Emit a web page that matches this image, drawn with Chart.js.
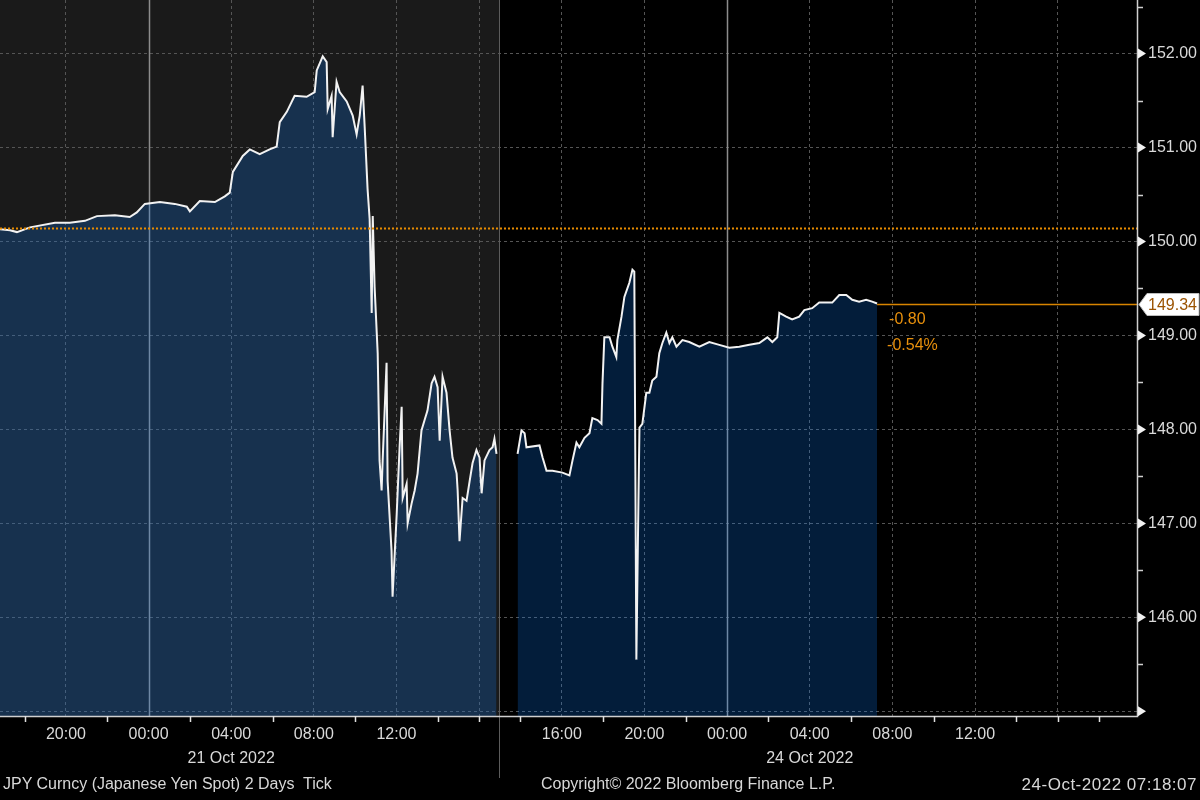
<!DOCTYPE html>
<html>
<head>
<meta charset="utf-8">
<title>JPY Curncy</title>
<script src="https://cdn.jsdelivr.net/npm/chart.js@4.4.1/dist/chart.umd.min.js"></script>
<style>
body { margin: 0; background: #000; }
#wrap { position: relative; width: 1200px; height: 800px; overflow: hidden; background: #000; }
.foot {
    position: absolute; top: 775px; color: #d8d8d8; white-space: nowrap;
    font: 16px 'Liberation Sans', Arial, sans-serif;
}
</style>
</head>
<body>
<div id="wrap">
    <canvas id="yenChart" width="1200" height="800"></canvas>
    <div class="foot" style="left:3px">JPY Curncy (Japanese Yen Spot) 2 Days&nbsp; Tick</div>
    <div class="foot" style="left:541px">Copyright© 2022 Bloomberg Finance L.P.</div>
    <div class="foot" style="right:3px;font-size:17px;letter-spacing:0.5px">24-Oct-2022 07:18:07</div>
</div>
<script>
/* ===== DATA ===== */
// x = hours on the weekend-compressed axis, 0 = 20:00 on 20 Oct
const fridayHours = [
    -3.19,-2.71,-2.37,-1.74,-0.53,0.19,0.92,1.50,2.37,3.09,3.43,3.82,4.55,5.27,5.85,6.00,
    6.48,7.21,7.69,7.93,8.08,8.56,8.90,9.38,9.86,10.20,10.35,10.69,11.07,11.65,12.04,12.14,
    12.43,12.62,12.67,12.86,12.91,13.10,13.25,13.59,13.88,14.07,14.22,14.36,14.46,14.60,14.70,
    14.80,14.85,14.94,15.09,15.18,15.28,15.33,15.52,15.57,15.76,15.81,16.01,16.15,16.25,16.30,
    16.49,16.54,16.73,16.88,17.02,17.21,17.36,17.50,17.70,17.84,17.99,18.09,18.23,18.42,18.57,
    18.71,18.91,18.96,19.05,19.20,19.39,19.54,19.68,19.87,20.02,20.12,20.26,20.50,20.65,20.74,20.84
];
const fridayPrices = [
    150.13,150.12,150.10,150.15,150.20,150.20,150.22,150.27,150.28,150.26,150.31,150.40,150.42,150.40,150.37,150.32,
    150.43,150.42,150.48,150.52,150.74,150.91,150.98,150.93,150.98,151.01,151.27,151.38,151.55,151.54,151.59,151.82,
    151.97,151.91,151.41,151.55,151.11,151.70,151.59,151.49,151.34,151.14,151.34,151.66,151.22,150.56,150.24,
    149.24,150.27,149.52,148.81,147.67,147.35,147.67,148.71,147.45,146.71,146.22,147.10,147.81,148.24,147.27,
    147.42,147.00,147.21,147.35,147.53,147.99,148.10,148.20,148.49,148.56,148.45,147.88,148.56,148.39,147.99,
    147.70,147.53,147.35,146.81,147.27,147.24,147.45,147.64,147.78,147.70,147.32,147.67,147.78,147.81,147.90,147.74
];
const mondayHours = [
    21.86,22.05,22.20,22.29,22.92,23.07,23.26,23.55,24.03,24.37,24.52,24.71,24.85,25.10,25.34,25.48,
    25.73,25.92,25.97,26.06,26.31,26.45,26.64,26.69,26.89,27.03,27.27,27.42,27.51,27.61,27.71,27.76,
    27.90,28.09,28.24,28.38,28.58,28.72,28.87,29.06,29.21,29.35,29.55,29.84,30.17,30.66,31.14,31.62,
    32.11,32.59,33.08,33.56,33.95,34.19,34.43,34.53,34.86,35.15,35.49,35.74,36.12,36.46,36.80,37.09,
    37.43,37.77,38.06,38.39,38.73,39.02,39.26
];
const mondayPrices = [
    147.74,147.99,147.96,147.81,147.83,147.70,147.56,147.56,147.54,147.51,147.67,147.86,147.81,147.91,147.96,148.12,
    148.10,148.06,148.49,148.98,148.98,148.88,148.77,148.95,149.20,149.41,149.56,149.70,149.68,145.55,147.24,148.02,
    148.06,148.39,148.39,148.52,148.56,148.81,148.92,149.03,148.92,148.98,148.88,148.95,148.93,148.88,148.93,148.90,
    148.87,148.88,148.90,148.92,148.98,148.93,148.98,149.24,149.20,149.17,149.20,149.27,149.29,149.35,149.35,149.35,
    149.43,149.43,149.38,149.36,149.38,149.36,149.34
];

const timeTicks  = [0, 4, 8, 12, 16, 20, 24, 28, 32, 36, 40, 44, 48];
const timeLabels = ["20:00","00:00","04:00","08:00","12:00","","16:00","20:00","00:00","04:00","08:00","12:00",""];
const dateLabels = ["","","21 Oct 2022","","","","","","","24 Oct 2022","","",""];
const priceTicks = [145, 146, 147, 148, 149, 150, 151, 152];
const dayBreaks = [4, 32];
const sessionBreak = 21.0;

const prevClose = 150.14;
const lastPrice = 149.34;
const netChange = "-0.80";
const pctChange = "-0.54%";

const FONT = "'Liberation Sans', Arial, sans-serif";
const FILL = "rgba(13,126,252,0.23)";

/* ===== EXTRA DRAWING ===== */
const bloombergBits = {
    id: "bloombergBits",
    beforeDraw(chart) {
        const {ctx, chartArea: a, scales: {x}} = chart;
        ctx.save();
        ctx.fillStyle = "#1a1a1a";
        ctx.fillRect(a.left, a.top, x.getPixelForValue(sessionBreak) - a.left, a.bottom - a.top);
        ctx.restore();
    },
    beforeDatasetsDraw(chart) {
        const {ctx, chartArea: a, scales: {x}} = chart;
        ctx.save();
        // midnight lines
        ctx.strokeStyle = "#8c8c8c";
        ctx.lineWidth = 1.5;
        dayBreaks.forEach(h => {
            const px = Math.round(x.getPixelForValue(h)) + 0.5;
            ctx.beginPath(); ctx.moveTo(px, a.top); ctx.lineTo(px, a.bottom); ctx.stroke();
        });
        // session break
        const sx = Math.round(x.getPixelForValue(sessionBreak)) - 0.5;
        ctx.strokeStyle = "#5c5c5c";
        ctx.lineWidth = 1;
        ctx.beginPath(); ctx.moveTo(sx, a.top); ctx.lineTo(sx, a.bottom + 62); ctx.stroke();
        ctx.restore();
    },
    afterDatasetsDraw(chart) {
        const {ctx, chartArea: a, scales: {x, y}} = chart;
        ctx.save();

        // previous close (dotted)
        const pcY = Math.round(y.getPixelForValue(prevClose)) + 0.5;
        ctx.strokeStyle = "#e88c00";
        ctx.lineWidth = 2;
        ctx.setLineDash([2, 2]);
        ctx.beginPath(); ctx.moveTo(a.left, pcY); ctx.lineTo(a.right, pcY); ctx.stroke();
        ctx.setLineDash([]);

        // last price line
        const lastX = x.getPixelForValue(mondayHours[mondayHours.length - 1]);
        const lpY = Math.round(y.getPixelForValue(lastPrice)) + 0.5;
        ctx.strokeStyle = "#d88400";
        ctx.lineWidth = 1.5;
        ctx.beginPath(); ctx.moveTo(lastX, lpY); ctx.lineTo(a.right, lpY); ctx.stroke();

        ctx.fillStyle = "#e8900c";
        ctx.font = "16px " + FONT;
        ctx.textBaseline = "middle";
        ctx.textAlign = "left";
        ctx.fillText(netChange, lastX + 12, lpY + 15);
        ctx.fillText(pctChange, lastX + 10, lpY + 41);

        // axis lines
        ctx.strokeStyle = "#cfcfcf";
        ctx.lineWidth = 1.5;
        ctx.beginPath();
        ctx.moveTo(a.right + 0.5, 0);
        ctx.lineTo(a.right + 0.5, a.bottom + 0.5);
        ctx.lineTo(a.left, a.bottom + 0.5);
        ctx.stroke();

        // y markers and minor ticks
        ctx.fillStyle = "#f2f2f2";
        priceTicks.forEach(p => {
            const py = y.getPixelForValue(p);
            ctx.beginPath();
            ctx.moveTo(a.right + 1, py - 5);
            ctx.lineTo(a.right + 9, py);
            ctx.lineTo(a.right + 1, py + 5);
            ctx.closePath();
            ctx.fill();
            const hy = Math.round(y.getPixelForValue(p + 0.5)) + 0.5;
            if (hy > 0) {
                ctx.beginPath(); ctx.moveTo(a.right, hy); ctx.lineTo(a.right + 6, hy); ctx.stroke();
            }
        });

        // x minor ticks
        ctx.strokeStyle = "#e0e0e0";
        for (let h = -2; h < 52; h += 2) {
            if (h % 4 === 0 && timeLabels[timeTicks.indexOf(h)]) continue;
            const px = Math.round(x.getPixelForValue(h)) + 0.5;
            ctx.beginPath(); ctx.moveTo(px, a.bottom); ctx.lineTo(px, a.bottom + 6); ctx.stroke();
        }

        // last price box
        const bx = a.right + 2;
        ctx.fillStyle = "#ffffff";
        ctx.strokeStyle = "#bdbdbd";
        ctx.lineWidth = 1;
        ctx.beginPath();
        ctx.moveTo(bx, lpY);
        ctx.lineTo(bx + 8, lpY - 11);
        ctx.lineTo(1199, lpY - 11);
        ctx.lineTo(1199, lpY + 11);
        ctx.lineTo(bx + 8, lpY + 11);
        ctx.closePath();
        ctx.fill();
        ctx.stroke();
        ctx.fillStyle = "#9a5200";
        ctx.font = "16px " + FONT;
        ctx.fillText(lastPrice.toFixed(2), bx + 9, lpY + 1);

        ctx.restore();
    }
};

/* ===== CHART ===== */
const lineStyle = {
    borderColor: "#f2f2f2",
    borderWidth: 2,
    pointRadius: 0,
    tension: 0,
    fill: "start",
    backgroundColor: FILL
};

new Chart(document.getElementById("yenChart"), {
    type: "line",
    data: {
        datasets: [
            Object.assign({ data: fridayHours.map((h, i) => ({ x: h, y: fridayPrices[i] })) }, lineStyle),
            Object.assign({ data: mondayHours.map((h, i) => ({ x: h, y: mondayPrices[i] })) }, lineStyle)
        ]
    },
    options: {
        responsive: false,
        animation: false,
        layout: { padding: 0 },
        plugins: { legend: { display: false }, tooltip: { enabled: false } },
        scales: {
            x: {
                type: "linear",
                min: -3.19,
                max: 51.84,
                afterBuildTicks: s => { s.ticks = timeTicks.map(v => ({ value: v })); },
                afterFit: s => { s.height = 84; s.paddingLeft = 0; s.paddingRight = 0; },
                grid: {
                    color: c => (c.tick && dayBreaks.includes(c.tick.value)) ? "rgba(0,0,0,0)" : "#555555",
                    lineWidth: 1,
                    drawTicks: false
                },
                border: { display: false, dash: [3, 3] },
                ticks: {
                    autoSkip: false,
                    maxRotation: 0,
                    padding: 7,
                    color: "#d9d9d9",
                    font: { family: FONT, size: 16, lineHeight: 1.5 },
                    callback: (v, i) => dateLabels[i] ? [timeLabels[i], dateLabels[i]] : timeLabels[i]
                }
            },
            y: {
                position: "right",
                min: 144.95,
                max: 152.57,
                afterBuildTicks: s => { s.ticks = priceTicks.map(v => ({ value: v })); },
                afterFit: s => { s.width = 63; s.paddingTop = 0; s.paddingBottom = 0; },
                grid: { color: "#555555", lineWidth: 1, drawTicks: false },
                border: { display: false, dash: [3, 3] },
                ticks: {
                    padding: 11,
                    color: "#d9d9d9",
                    font: { family: FONT, size: 16 },
                    callback: v => v === 145 ? "" : v.toFixed(2)
                }
            }
        }
    },
    plugins: [bloombergBits]
});
</script>
</body>
</html>
